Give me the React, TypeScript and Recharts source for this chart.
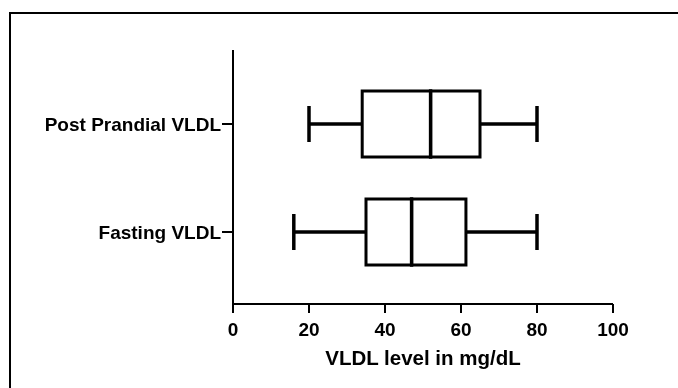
import { BarChart, Bar, XAxis, YAxis } from 'recharts';

const FONT = '"Liberation Sans", Arial, Helvetica, sans-serif';
const INK = '#000';

// box plot summary (mg/dL)
const categories = ['Post Prandial VLDL', 'Fasting VLDL'];
const mins    = [20, 16];
const q1s     = [34, 35];
const medians = [52, 47];
const q3s     = [65, 61.3];
const maxs    = [80, 80];
const xTicks  = [0, 20, 40, 60, 80, 100];

// stacked segments: invisible base, lower whisker, lower box, upper box, upper whisker
const rows = categories.map((name, i) => ({
  name,
  base: mins[i],
  lowWhisker: q1s[i] - mins[i],
  lowBox: medians[i] - q1s[i],
  highBox: q3s[i] - medians[i],
  highWhisker: maxs[i] - q3s[i],
}));

const CAP = 36;

// eslint-disable-next-line @typescript-eslint/no-explicit-any
function Whisker({ x, y, width, height, side }: any) {
  const cy = y + height / 2;
  const capX = side === 'left' ? x : x + width;
  return (
    <g stroke={INK} strokeWidth={3.5}>
      <line x1={x} y1={cy} x2={x + width} y2={cy} />
      <line x1={capX} y1={cy - CAP / 2} x2={capX} y2={cy + CAP / 2} />
    </g>
  );
}

// eslint-disable-next-line @typescript-eslint/no-explicit-any
function BoxPart({ x, y, width, height, median }: any) {
  return (
    <g>
      <rect x={x} y={y} width={width} height={height} fill="#fff" stroke={INK} strokeWidth={3} />
      {median && <line x1={x} y1={y - 1.5} x2={x} y2={y + height + 1.5} stroke={INK} strokeWidth={3.5} />}
    </g>
  );
}

export default function App() {
  const tick = { fill: INK, fontSize: 19, fontWeight: 'bold', fontFamily: FONT };
  return (
    <div style={{ position: 'relative', width: 662, height: 372 }}>
      {/* figure frame: only its top and left edges fall inside the window */}
      <div style={{ position: 'fixed', left: 9, top: 12, width: 669, height: 2, background: INK }} />
      <div style={{ position: 'fixed', left: 9, top: 12, width: 2, height: 376, background: INK }} />
      <BarChart
        width={662}
        height={372}
        data={rows}
        layout="vertical"
        barSize={66}
        margin={{ top: 42, right: 57, bottom: 0, left: 0 }}
      >
        <XAxis
          type="number"
          domain={[0, 100]}
          ticks={xTicks}
          height={76}
          tick={tick}
          tickSize={9}
          tickMargin={10}
          stroke={INK}
          strokeWidth={2}
          tickLine={{ stroke: INK, strokeWidth: 2 }}
          label={{ value: 'VLDL level in mg/dL', position: 'insideBottom', offset: 15, fill: INK, fontSize: 20.5, fontWeight: 'bold', fontFamily: FONT }}
        />
        <YAxis
          type="category"
          dataKey="name"
          width={225}
          padding={{ top: 20, bottom: 18 }}
          tick={tick}
          tickSize={11}
          tickMargin={1}
          stroke={INK}
          strokeWidth={2}
          tickLine={{ stroke: INK, strokeWidth: 2 }}
        />
        <Bar dataKey="base" stackId="box" fill="none" isAnimationActive={false} />
        <Bar dataKey="lowWhisker" stackId="box" isAnimationActive={false}
          shape={(p: any) => <Whisker {...p} side="left" />} />
        <Bar dataKey="lowBox" stackId="box" isAnimationActive={false}
          shape={(p: any) => <BoxPart {...p} />} />
        <Bar dataKey="highBox" stackId="box" isAnimationActive={false}
          shape={(p: any) => <BoxPart {...p} median />} />
        <Bar dataKey="highWhisker" stackId="box" isAnimationActive={false}
          shape={(p: any) => <Whisker {...p} side="right" />} />
      </BarChart>
    </div>
  );
}
